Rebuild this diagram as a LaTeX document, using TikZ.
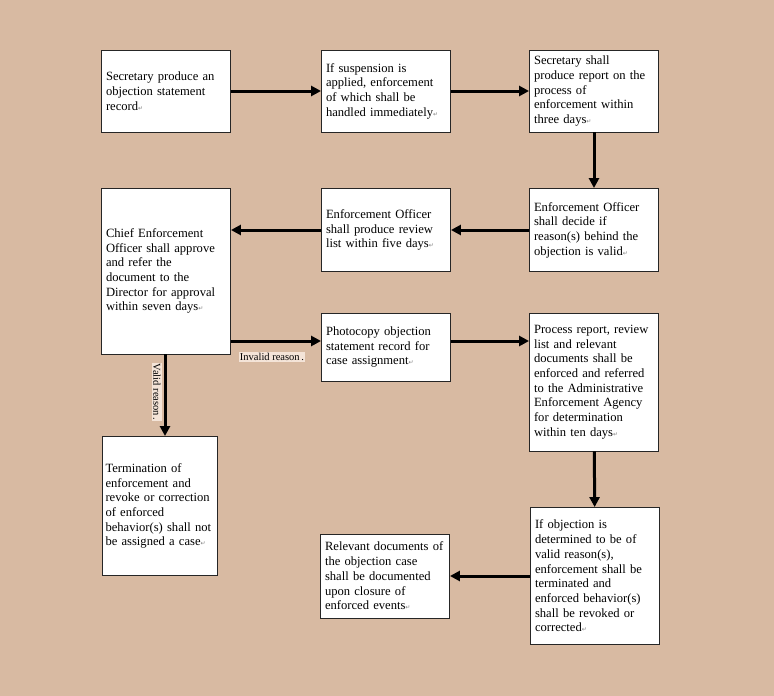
\documentclass[tikz,border=0pt]{standalone}
\usepackage{fontspec}
\setmainfont{Liberation Serif}
\newfontfamily\markfont{DejaVu Sans}
\usetikzlibrary{arrows.meta}
\definecolor{card}{RGB}{216,186,162}
\definecolor{tag}{RGB}{244,228,216}
\newcommand{\pmark}{{\markfont\fontsize{6}{6}\selectfont\color{gray}↵}}

\begin{document}
\begin{tikzpicture}[x=1pt, y=-1pt,
  box/.style={draw=black!85, line width=0.9pt, fill=white, inner xsep=4.5pt, inner ysep=2pt,
    text width=120pt, minimum height=#1, align=left,
    font=\fontsize{12.6}{14.7}\selectfont},
  flow/.style={line width=3pt, -{Triangle[length=10pt, width=10pt]}},
  tagnode/.style={fill=tag, inner sep=1pt, font=\fontsize{10.5}{11}\selectfont}]
\fill[card] (0,0) rectangle (774,696);
\useasboundingbox (0,0) rectangle (774,696);
% top row
\node[box=82pt] (R1N1) at (166,91) {Secretary produce an\\objection statement\\record\pmark};
\node[box=82pt] (R1N2) at (386,91) {If suspension is\\applied, enforcement\\of which shall be\\handled immediately\pmark};
\node[box=82pt] (R1N3) at (594,91) {Secretary shall\\produce report on the\\process of\\enforcement within\\three days\pmark};
% second row
\node[box=83pt] (R2N3) at (594,230) {Enforcement Officer\\shall decide if\\reason(s) behind the\\objection is valid\pmark};
\node[box=83pt] (R2N2) at (386,230) {Enforcement Officer\\shall produce review\\list within five days\pmark};
\node[box=166pt] (R2N1) at (166,271) {Chief Enforcement\\Officer shall approve\\and refer the\\document to the\\Director for approval\\within seven days\pmark};
% third row
\node[box=68pt] (R3N2) at (386,347) {Photocopy objection\\statement record for\\case assignment\pmark};
\node[box=138pt] (R3N3) at (594,382) {Process report, review\\list and relevant\\documents shall be\\enforced and referred\\to the Administrative\\Enforcement Agency\\for determination\\within ten days\pmark};
% bottom row
\node[box=139pt, inner xsep=3pt, text width=109pt] (R4N1) at (160,506) {Termination of\\enforcement and\\revoke or correction\\of enforced\\behavior(s) shall not\\be assigned a case\pmark};
\node[box=137pt] (R4N3) at (595,576) {If objection is\\determined to be of\\valid reason(s),\\enforcement shall be\\terminated and\\enforced behavior(s)\\shall be revoked or\\corrected\pmark};
\node[box=84pt] (R4N2) at (385,576) {Relevant documents of\\the objection case\\shall be documented\\upon closure of\\enforced events\pmark};
% arrows
\draw[flow] (R1N1) -- (R1N2);
\draw[flow] (R1N2) -- (R1N3);
\draw[flow] (R1N3) -- (R2N3);
\draw[flow] (R2N3) -- (R2N2);
\draw[flow] (R2N2.west) -- (R2N2.west -| R2N1.east);
\draw[flow] (R2N1.east |- 0,341) -- (R3N2.west |- 0,341);
\draw[flow] (R3N2.east |- 0,341) -- (R3N3.west |- 0,341);
\draw[flow] (R2N1.south -| 165,0) -- (R4N1.north -| 165,0);
\draw[flow] (R3N3) -- (R4N3);
\draw[flow] (R4N3) -- (R4N2);
% labels
\node[tagnode] (Invalid) at (272,357) {Invalid reason\,.};
\node[tagnode, rotate=-90] (Valid) at (157,392) {Valid reason\,.};
\end{tikzpicture}
\end{document}
